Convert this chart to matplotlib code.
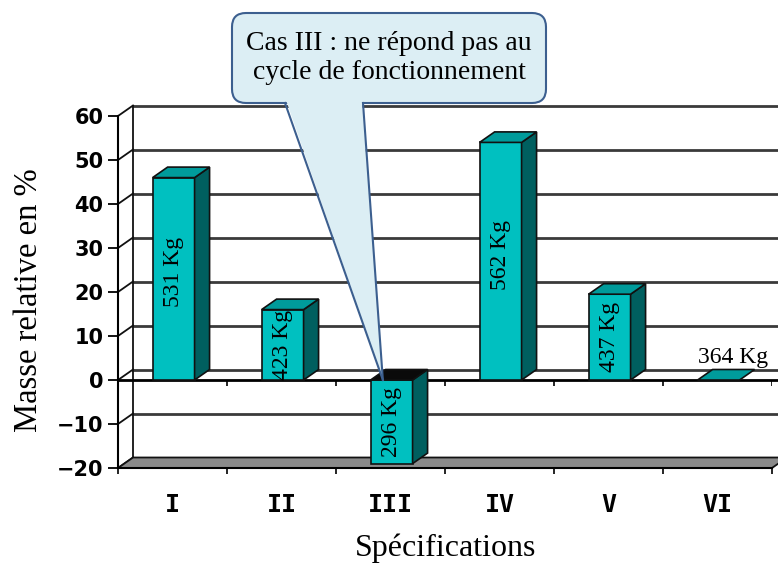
import numpy as np
import matplotlib
matplotlib.use('Agg')
import matplotlib.pyplot as plt
from matplotlib.patches import Polygon, FancyBboxPatch

# data
categories = ['I', 'II', 'III', 'IV', 'V', 'VI']
values = [46, 16, -19, 54, 19.5, 0]
masses = ['531 Kg', '423 Kg', '296 Kg', '562 Kg', '437 Kg', '364 Kg']
yticks = list(range(-20, 61, 10))
callout = 'Cas III : ne répond pas au\ncycle de fonctionnement'
serif = 'Liberation Serif'

W, H = 778, 566
fig = plt.figure(figsize=(W / 100, H / 100), dpi=100)
ax = fig.add_axes([118 / W, (H - 468) / H, 654 / W, 352 / H])
n = len(categories)
ax.set_xlim(0, n)
ax.set_ylim(yticks[0], yticks[-1])

# depth of the fake 3d (data units)
DX, DY = 15 / 109, 10.5 / 4.4
edge = '#111111'
front_c, top_c, side_c = '#00C0C0', '#009B9B', '#005F5F'

# back wall + left wall
for v in yticks:
    ax.plot([DX, n + DX], [v + DY] * 2, color='#3a3a3a', lw=2, clip_on=False, zorder=1)
    ax.plot([0, DX], [v, v + DY], color=edge, lw=1.3, clip_on=False, zorder=1)
ax.plot([DX, DX], [yticks[0] + DY, yticks[-1] + DY], color=edge, lw=1.3, clip_on=False, zorder=1)

# floor
lo = yticks[0]
ax.add_patch(Polygon([(0, lo), (n, lo), (n + DX, lo + DY), (DX, lo + DY)], closed=True,
                     fc='#8a8a8a', ec=edge, lw=1.3, clip_on=False, zorder=2))

# zero axis
ax.plot([0, n + DX], [0, 0], color='black', lw=2, clip_on=False, zorder=2)
ax.vlines(np.arange(1, n + 1), -1.3, 0, color='black', lw=1.2, zorder=2)

# bars
bw = 0.385
for i, v in enumerate(values):
    x0 = i + 0.5 - bw / 2 + 0.01
    x1 = x0 + bw
    top, bot = max(v, 0), min(v, 0)
    if v != 0:
        ax.add_patch(Polygon([(x0, bot), (x1, bot), (x1, top), (x0, top)], closed=True,
                             fc=front_c, ec=edge, lw=1.2, zorder=4))
        ax.add_patch(Polygon([(x1, bot), (x1 + DX, bot + DY), (x1 + DX, top + DY), (x1, top)],
                             closed=True, fc=side_c, ec=edge, lw=1.2, zorder=4))
    tc = '#0a0a0a' if v < 0 else top_c
    ax.add_patch(Polygon([(x0, top), (x1, top), (x1 + DX, top + DY), (x0 + DX, top + DY)],
                         closed=True, fc=tc, ec=edge, lw=1.2, zorder=4))
    if v != 0:
        ax.text((x0 + x1) / 2, v / 2 + (1.5 if v > 30 else 0), masses[i], rotation=90,
                ha='center', va='center', fontsize=17, family=serif, zorder=6)
    else:
        ax.text((x0 + x1) / 2 + 0.13, DY + 0.3, masses[i], ha='center', va='bottom',
                fontsize=17, family=serif, zorder=6)

# axes cosmetics
for s in ['top', 'right']:
    ax.spines[s].set_visible(False)
ax.spines['left'].set_linewidth(1.5)
ax.spines['bottom'].set_linewidth(1.5)
ax.spines['left'].set_zorder(3)
ax.spines['bottom'].set_zorder(3)
ax.set_yticks(yticks)
ax.set_yticklabels([str(t).replace('-', '\u2212') for t in yticks],
                   fontsize=15, fontweight='bold', family='DejaVu Sans')
ax.tick_params(axis='y', length=7, width=1.3, direction='out', pad=3.5)
ax.set_xticks(np.arange(n) + 0.5)
ax.set_xticklabels(categories, fontsize=18, fontweight='bold', family='DejaVu Sans Mono')
ax.tick_params(axis='x', which='major', length=0, pad=18)
ax.set_xticks(np.arange(n + 1), minor=True)
ax.tick_params(axis='x', which='minor', length=4, width=1.2, direction='out')
ax.set_facecolor('none')

fig.text(29 / W, 1 - 300 / H, 'Masse relative en %', rotation=90, ha='center', va='center',
         fontsize=23.5, family=serif)
fig.text(446 / W, 1 - 548 / H, 'Spécifications', ha='center', va='center',
         fontsize=23, family=serif)

# callout (inches)
inch = fig.dpi_scale_trans
bx0, by0, bw_in, bh_in = 2.32, (H - 103) / 100, 3.14, 0.90
box_fc, box_ec = '#DCEEF4', '#3C5F8F'
ax_i = values.index(min(values))
tip = ax.transData.transform((ax_i + 0.43, 0)) / fig.dpi
ax.add_artist(FancyBboxPatch((bx0, by0), bw_in, bh_in,
                             boxstyle='round,pad=0,rounding_size=0.14',
                             fc=box_fc, ec=box_ec, lw=1.5, transform=inch, clip_on=False, zorder=10))
bl, br = (2.85, by0), (3.63, by0)
ax.add_artist(Polygon([(bl[0] + 0.01, by0 + 0.03), (br[0] - 0.01, by0 + 0.03), tuple(tip)],
                      closed=True, fc=box_fc, ec='none', transform=inch, clip_on=False, zorder=11))
for b in (bl, br):
    ax.add_artist(plt.Line2D([b[0], tip[0]], [b[1], tip[1]], color=box_ec, lw=1.5,
                             transform=inch, clip_on=False, zorder=12))
fig.text(3.89, (H - 58) / 100, callout, transform=inch, ha='center', va='center',
         fontsize=20, family=serif, linespacing=1.2, zorder=13)

fig.savefig('out.png', dpi=100)
